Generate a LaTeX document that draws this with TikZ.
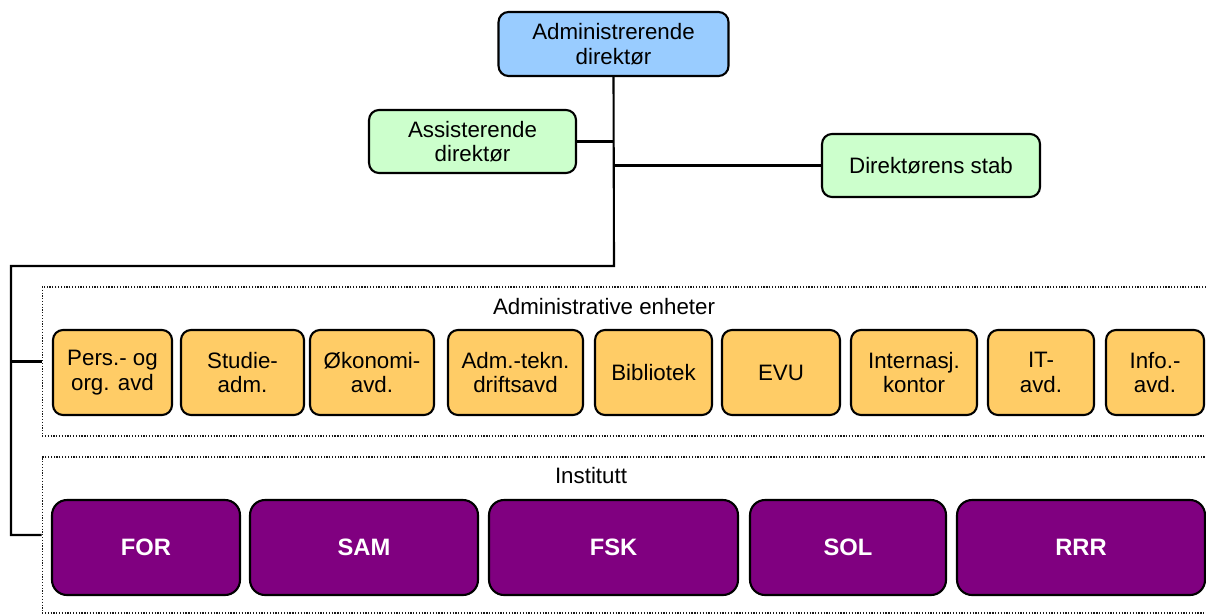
\documentclass[tikz,border=0pt]{standalone}
\usepackage{fontspec}
\setmainfont{Liberation Sans}
\usetikzlibrary{positioning, calc}

\definecolor{topblue}{HTML}{99CCFF}
\definecolor{staffgreen}{HTML}{CCFFCC}
\definecolor{unitorange}{HTML}{FFCC66}
\definecolor{deptpurple}{HTML}{800080}

\begin{document}
\begin{tikzpicture}[
    x=0.02cm, y=-0.02cm,
    font=\fontsize{12.7}{13.9}\selectfont,
    director/.style={rectangle, rounded corners=0.2cm, draw=black, line width=1.2pt, fill=topblue, minimum width=4.6cm, minimum height=1.28cm, inner sep=0pt, align=center},
    staff/.style={rectangle, rounded corners=0.2cm, draw=black, line width=1.2pt, fill=staffgreen, minimum height=1.26cm, inner sep=0pt, align=center},
    unit/.style={rectangle, rounded corners=0.2cm, draw=black, line width=1.2pt, fill=unitorange, minimum height=1.7cm, inner sep=0pt, align=center},
    dept/.style={rectangle, rounded corners=0.3cm, draw=black, line width=1.2pt, fill=deptpurple, text=white, font=\fontsize{13.5}{15}\selectfont\bfseries, minimum height=1.9cm, inner sep=0pt, align=center},
    group/.style={rectangle, draw=black!90, line width=0.7pt, dash pattern=on 0.7pt off 0.9pt, inner sep=0pt},
    line/.style={line width=1.2pt}
]
\useasboundingbox (0,0) rectangle (1206,615);

% Groups
\node[group, minimum width=23.76cm, minimum height=2.98cm] (admgrp) at (636,361.5) {};
\node[group, minimum width=23.76cm, minimum height=3.12cm] (instgrp) at (636,535) {};
\node (admtitle) at (604,307) {Administrative enheter};
\node (insttitle) at (591,476) {Institutt};

% Nodes
\node[director] (adm) at (613.5,44) {Administrerende\\direktør};
\node[staff, minimum width=4.14cm] (assist) at (472.5,141.5) {Assisterende\\direktør};
\node[staff, minimum width=4.36cm] (stab) at (931,165.5) {Direktørens stab};

\node[unit, minimum width=2.38cm] (pers) at (112.5,372.5) {Pers.- og\\org. avd};
\node[unit, minimum width=2.46cm] (studie) at (242.5,372.5) {Studie-\\adm.};
\node[unit, minimum width=2.48cm] (okonomi) at (372,372.5) {Økonomi-\\avd.};
\node[unit, minimum width=2.7cm] (drift) at (515.5,372.5) {Adm.-tekn.\\driftsavd};
\node[unit, minimum width=2.34cm] (bibl) at (653.5,372.5) {Bibliotek};
\node[unit, minimum width=2.36cm] (evu) at (781,372.5) {EVU};
\node[unit, minimum width=2.52cm] (internasj) at (914,372.5) {Internasj.\\kontor};
\node[unit, minimum width=2.12cm] (itavd) at (1041,372.5) {IT-\\avd.};
\node[unit, minimum width=1.96cm] (info) at (1155,372.5) {Info.-\\avd.};

\node[dept, minimum width=3.76cm] (for) at (146,547.5) {FOR};
\node[dept, minimum width=4.56cm] (sam) at (364,547.5) {SAM};
\node[dept, minimum width=4.98cm] (fsk) at (613.5,547.5) {FSK};
\node[dept, minimum width=3.92cm] (sol) at (848,547.5) {SOL};
\node[dept, minimum width=4.96cm] (rrr) at (1081,547.5) {RRR};

\coordinate (trunk) at (614,266);
\coordinate (spine) at (11,266);

% Lines
\draw[line] (assist.east) -- (assist.east -| adm.south);
\draw[line] (adm.south |- stab.west) -- (stab.west);
\draw[line] (adm.south) -- (trunk) -- (spine) -- (spine |- instgrp.west) -- (instgrp.west);
\draw[line] (spine |- admgrp.west) -- (admgrp.west);

\end{tikzpicture}
\end{document}
